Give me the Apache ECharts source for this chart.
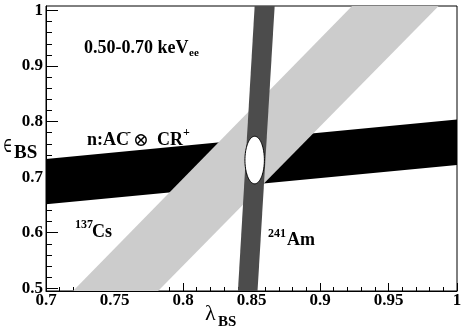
<!DOCTYPE html>
<html>
<head>
<meta charset="utf-8">
<script src="https://cdn.jsdelivr.net/npm/echarts@6/dist/echarts.min.js"></script>
<style>
  html, body { margin: 0; padding: 0; background: #fff; }
  #chart { width: 463px; height: 333px; }
</style>
</head>
<body>
<div id="chart"></div>
<script>
// axis ranges and ticks
const xRange = [0.7, 1.0]
const yRange = [0.495, 1.008]
const xTickLabels = ['0.7', '0.75', '0.8', '0.85', '0.9', '0.95', '1']
const yTicks = [0.5, 0.6, 0.7, 0.8, 0.9, 1.0]
const yTickLabels = ['0.5', '0.6', '0.7', '0.8', '0.9', '1']
const yMinorTicks = [0.52, 0.54, 0.56, 0.58, 0.62, 0.64, 0.66, 0.68, 0.72, 0.74, 0.76, 0.78,
  0.82, 0.84, 0.86, 0.88, 0.92, 0.94, 0.96, 0.98]

// bands as polygon corners [x, y]
const acBand = [[0.7, 0.6512], [1.0, 0.7217], [1.0, 0.8038], [0.7, 0.7325]]
const csBand = [[0.7197, 0.495], [0.7818, 0.495], [0.9866, 1.008], [0.9234, 1.008]]
const amBand = [[0.8401, 0.495], [0.8544, 0.495], [0.8669, 1.008], [0.8523, 1.008]]
// best fit ellipse: cx, cy, rx, ry
const fitEllipse = [0.8523, 0.7307, 0.0071, 0.0428]

const serif = '"Liberation Serif", "Times New Roman", serif'

function bandSeries(band, color) {
  return {
    type: 'custom', clip: true, silent: true,
    data: [band.flat()],
    renderItem: (params, api) => {
      const pts = []
      for (let i = 0; i < band.length; i++) pts.push(api.coord([api.value(2 * i), api.value(2 * i + 1)]))
      return { type: 'polygon', shape: { points: pts }, style: { fill: color } }
    }
  }
}

function label(text, x, y, size, opts = {}) {
  return {
    type: 'text', x, y, silent: true, scaleX: opts.scaleX || 1,
    style: {
      text, fill: '#000', verticalAlign: 'middle', align: opts.align || 'left',
      font: `${opts.normal ? '' : 'bold '}${size}px ${opts.family || serif}`
    }
  }
}

const chart = echarts.init(document.getElementById('chart'), null, { renderer: 'canvas' })
chart.setOption({
  animation: false,
  backgroundColor: '#fff',
  grid: { left: 46, right: 6, top: 6, bottom: 42, show: true, borderColor: '#000', borderWidth: 1, outerBoundsMode: 'none' },
  xAxis: {
    type: 'value', min: xRange[0], max: xRange[1], interval: 0.05,
    axisLine: { lineStyle: { color: '#000', width: 1 } },
    axisTick: { inside: true, length: 8, lineStyle: { color: '#000' } },
    minorTick: { show: true, splitNumber: 5, length: 4, lineStyle: { color: '#000' } },
    splitLine: { show: false },
    axisLabel: {
      color: '#000', fontFamily: serif, fontWeight: 'bold', fontSize: 17, margin: 1,
      showMinLabel: true, showMaxLabel: true,
      formatter: (v, i) => xTickLabels[i]
    }
  },
  yAxis: [{
    type: 'value', min: yRange[0], max: yRange[1],
    axisLine: { show: true, lineStyle: { color: '#000', width: 1 } },
    axisTick: { show: true, inside: true, length: 12, customValues: yTicks, lineStyle: { color: '#000' } },
    splitLine: { show: false },
    axisLabel: {
      color: '#000', fontFamily: serif, fontWeight: 'bold', fontSize: 17, margin: 3,
      customValues: yTicks,
      formatter: v => yTickLabels[yTicks.findIndex(t => Math.abs(t - v) < 1e-6)]
    }
  }, {
    type: 'value', min: yRange[0], max: yRange[1], position: 'left', offset: 0,
    axisLine: { show: false },
    axisTick: { show: true, inside: true, length: 6, customValues: yMinorTicks, lineStyle: { color: '#000' } },
    axisLabel: { show: false },
    splitLine: { show: false }
  }],
  series: [
    bandSeries(acBand, '#000000'),
    bandSeries(csBand, '#cccccc'),
    bandSeries(amBand, '#4c4c4c'),
    {
      type: 'custom', clip: true, silent: true,
      data: [fitEllipse],
      renderItem: (params, api) => {
        const cx = api.value(0), cy = api.value(1), rx = api.value(2), ry = api.value(3)
        const pts = []
        for (let k = 0; k < 90; k++) {
          const t = k / 90 * Math.PI * 2
          pts.push(api.coord([cx + rx * Math.cos(t), cy + ry * Math.sin(t)]))
        }
        return { type: 'polygon', shape: { points: pts }, style: { fill: '#fff', stroke: '#000', lineWidth: 1 } }
      }
    }
  ],
  graphic: [
    label('0.50-0.70 keV', 84, 48, 18),
    label('ee', 189, 53, 11),
    label('n:AC', 87, 140, 18),
    label('-', 127, 133, 12),
    label('\u2297', 133, 141, 19, { normal: true, family: '"DejaVu Serif", serif' }),
    label('CR', 157, 140, 18),
    label('+', 183, 133, 12),
    label('137', 75, 225, 12),
    label('Cs', 92, 232, 18),
    label('241', 268, 234, 12),
    label('Am', 287, 240, 18),
    label('\u2208', 3, 147, 21, { normal: true, family: '"DejaVu Serif", serif', scaleX: 0.6 }),
    label('BS', 14, 153, 19),
    label('\u03bb', 205, 314, 22, { normal: true }),
    label('BS', 218, 322, 15)
  ]
})
</script>
</body>
</html>
